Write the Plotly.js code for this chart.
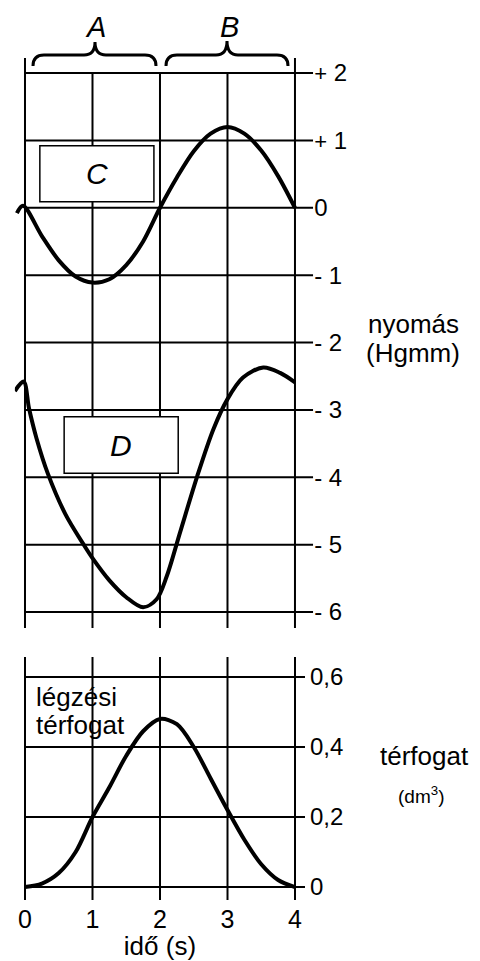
<!DOCTYPE html>
<html><head><meta charset="utf-8">
<script src="https://cdn.plot.ly/plotly-3.0.1.min.js"></script>
<style>html,body{margin:0;padding:0;background:#fff}</style>
</head><body><div id="chart" style="width:480px;height:961px"></div>
<script>
// ---- data ----
const timeTicks = [0, 1, 2, 3, 4];
const timeTickText = ['0', '1', '2', '3', '4'];
const pressureTicks = [2, 1, 0, -1, -2, -3, -4, -5, -6];
const pressureTickText = ['<span style="font-size:22px">+</span> 2', '<span style="font-size:22px">+</span> 1', '0', '- 1', '- 2', '- 3', '- 4', '- 5', '- 6'];
const volumeTicks = [0, 0.2, 0.4, 0.6];
const volumeTickText = ['0', '0,2', '0,4', '0,6'];

// curve C (alveolar pressure)
const cTime = [-0.12, -0.03, 0.25, 0.5, 0.75, 1.0, 1.25, 1.5, 1.75, 2.0, 2.25, 2.5, 2.75, 3.0, 3.25, 3.5, 3.75, 4.0];
const cPressure = [-0.08, 0.03, -0.42, -0.78, -1.02, -1.11, -1.06, -0.85, -0.5, 0.0, 0.45, 0.84, 1.1, 1.2, 1.1, 0.85, 0.47, 0.0];
// curve D (intrapleural pressure)
const dTime = [-0.15, -0.02, 0.06, 0.17, 0.34, 0.6, 0.87, 1.0, 1.25, 1.5, 1.75, 1.95, 2.1, 2.3, 2.55, 2.79, 3.0, 3.23, 3.53, 3.78, 4.0];
const dPressure = [-2.72, -2.58, -2.98, -3.42, -3.95, -4.55, -5.0, -5.2, -5.53, -5.78, -5.93, -5.81, -5.47, -4.81, -3.99, -3.29, -2.84, -2.52, -2.37, -2.45, -2.59];
// tidal volume
const vTime = [0, 0.25, 0.5, 0.75, 1, 1.25, 1.5, 1.75, 2, 2.25, 2.5, 2.75, 3, 3.25, 3.5, 3.75, 4];
const vVolume = [0, 0.01, 0.04, 0.1, 0.2, 0.285, 0.375, 0.445, 0.48, 0.465, 0.40, 0.31, 0.22, 0.135, 0.065, 0.02, 0];

// ---- geometry ----
const W = 480, H = 961;
const pxX = p => p / W;
const pxY = p => 1 - p / H;
const xTopRange = [-0.15, 4.27];
const xBotRange = [-0.15, 4.148];
const yTopRange = [-6.237, 2.223];
const yBotRange = [-0.037, 0.657];

const FONT = 'Liberation Sans, Arial, Helvetica, sans-serif';
const lineStyle = {color: '#000', width: 4, shape: 'spline', smoothing: 0.9};

const traces = [
  {x: cTime, y: cPressure, xaxis: 'x', yaxis: 'y', mode: 'lines', line: lineStyle, hoverinfo: 'skip'},
  {x: dTime, y: dPressure, xaxis: 'x', yaxis: 'y', mode: 'lines', line: lineStyle, hoverinfo: 'skip'},
  {x: vTime, y: vVolume, xaxis: 'x2', yaxis: 'y2', mode: 'lines', line: lineStyle, hoverinfo: 'skip'}
];

const grid = {color: '#000', width: 2};
const shapes = [];
// top panel grid
pressureTicks.forEach(v => shapes.push({type: 'line', xref: 'x', yref: 'y', x0: 0, x1: xTopRange[1], y0: v, y1: v, line: grid, layer: 'below'}));
timeTicks.forEach(t => {
  const full = (t === 0 || t === 4);
  shapes.push({type: 'line', xref: 'x', yref: 'y', x0: t, x1: t, y0: yTopRange[0], y1: full ? yTopRange[1] : 2, line: grid, layer: 'below'});
});
// bottom panel grid
volumeTicks.forEach(v => shapes.push({type: 'line', xref: 'x2', yref: 'y2', x0: 0, x1: xBotRange[1], y0: v, y1: v, line: grid, layer: 'below'}));
timeTicks.forEach(t => shapes.push({type: 'line', xref: 'x2', yref: 'y2', x0: t, x1: t, y0: yBotRange[0], y1: yBotRange[1], line: grid, layer: 'below'}));
// label boxes C and D
shapes.push({type: 'rect', xref: 'x', yref: 'y', x0: 0.22, x1: 1.91, y0: 0.09, y1: 0.92, fillcolor: '#fff', line: {color: '#000', width: 1.5}, layer: 'above'});
shapes.push({type: 'rect', xref: 'x', yref: 'y', x0: 0.58, x1: 2.27, y0: -3.94, y1: -3.10, fillcolor: '#fff', line: {color: '#000', width: 1.5}, layer: 'above'});

// braces (pixel geometry -> paper)
function brace(x0, x1, xm, yb, yf, yt, r) {
  const P = (x, y) => pxX(x).toFixed(5) + ',' + pxY(y).toFixed(5);
  return 'M' + P(x0, yb) + ' Q' + P(x0, yf) + ' ' + P(x0 + r, yf) +
    ' L' + P(xm - r, yf) + ' Q' + P(xm, yf) + ' ' + P(xm, yt) +
    ' Q' + P(xm, yf) + ' ' + P(xm + r, yf) +
    ' L' + P(x1 - r, yf) + ' Q' + P(x1, yf) + ' ' + P(x1, yb);
}
shapes.push({type: 'path', xref: 'paper', yref: 'paper', path: brace(33, 156, 95, 66, 55, 42, 11), line: {color: '#000', width: 3}});
shapes.push({type: 'path', xref: 'paper', yref: 'paper', path: brace(166, 288, 227, 66, 55, 41, 11), line: {color: '#000', width: 3}});

const ann = (text, x, y, size, opts) => Object.assign({text, x: pxX(x), y: pxY(y), xref: 'paper', yref: 'paper', showarrow: false, font: {family: FONT, size, color: '#000'}, xanchor: 'center', yanchor: 'middle'}, opts || {});
const annotations = [
  ann('<i>A</i>', 95, 27, 29),
  ann('<i>B</i>', 229, 27, 29),
  ann('<i>C</i>', 97, 174, 30),
  ann('<i>D</i>', 121, 446, 30),
  ann('nyomás', 413, 324, 26),
  ann('(Hgmm)', 413, 353, 26),
  ann('térfogat', 424, 756, 26),
  ann('(dm<sup>3</sup>)', 421, 795, 19),
  ann('légzési', 34, 697, 26, {xanchor: 'left'}),
  ann('térfogat', 34, 725, 26, {xanchor: 'left'})
];

const layout = {
  width: W, height: H,
  margin: {l: 0, r: 0, t: 0, b: 0},
  paper_bgcolor: '#fff', plot_bgcolor: 'rgba(0,0,0,0)',
  showlegend: false,
  font: {family: FONT, color: '#000'},
  xaxis: {domain: [pxX(14.875), pxX(313.2)], range: xTopRange, anchor: 'y', showgrid: false, zeroline: false, showticklabels: false, ticks: '', showline: false},
  yaxis: {domain: [pxY(628), pxY(58)], range: yTopRange, anchor: 'x', side: 'right', showgrid: false, zeroline: false, showline: false, ticks: '',
    tickmode: 'array', tickvals: pressureTicks, ticktext: pressureTickText, tickfont: {family: FONT, size: 24, color: '#000'}, ticklabelstandoff: 0},
  xaxis2: {domain: [pxX(14.875), pxX(305)], range: xBotRange, anchor: 'y2', showgrid: false, zeroline: false, showline: false, ticks: '',
    tickmode: 'array', tickvals: timeTicks, ticktext: timeTickText, tickfont: {family: FONT, size: 25, color: '#000'}, ticklabelstandoff: 2,
    title: {text: 'idő (s)', font: {family: FONT, size: 26, color: '#000'}, standoff: 8}},
  yaxis2: {domain: [pxY(900), pxY(657)], range: yBotRange, anchor: 'x2', side: 'right', showgrid: false, zeroline: false, showline: false, ticks: '',
    tickmode: 'array', tickvals: volumeTicks, ticktext: volumeTickText, tickfont: {family: FONT, size: 24, color: '#000'}, ticklabelstandoff: 4},
  shapes, annotations
};

Plotly.newPlot('chart', traces, layout, {staticPlot: true, displayModeBar: false});
</script></body></html>
